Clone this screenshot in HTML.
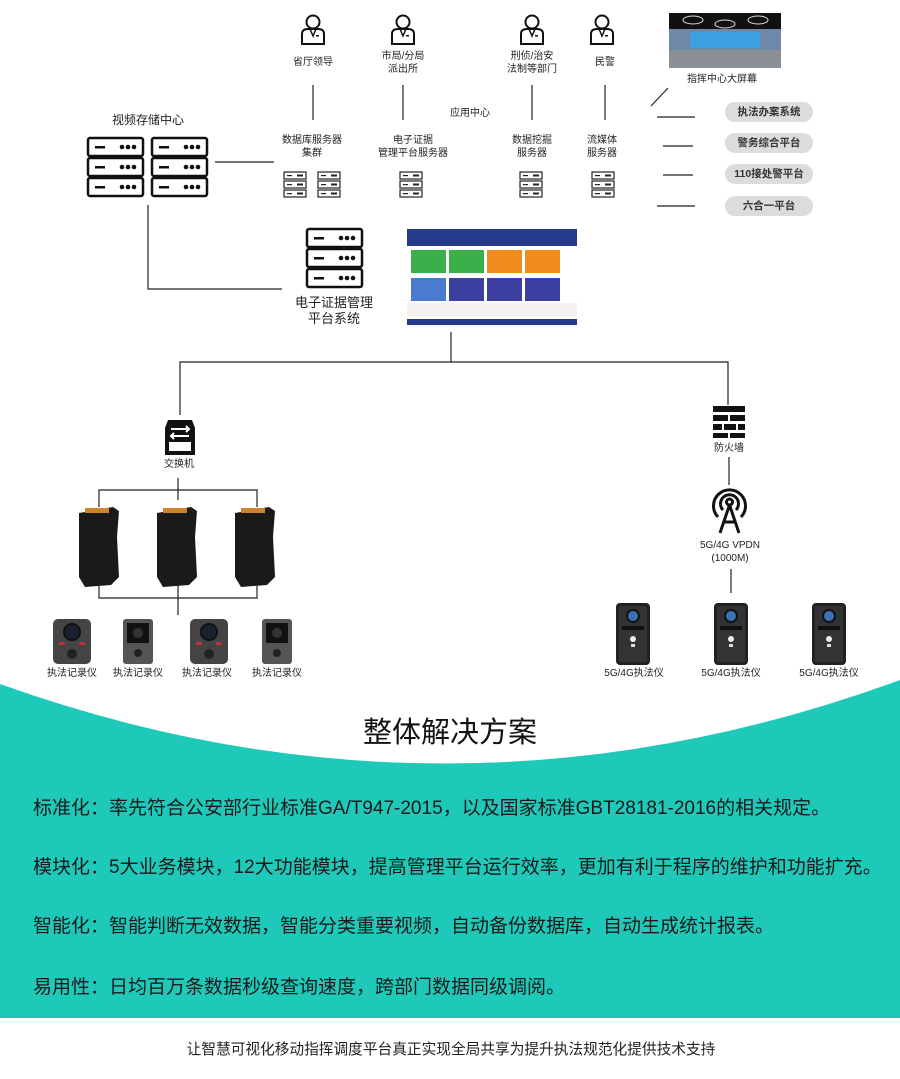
<!DOCTYPE html>
<html><head><meta charset="utf-8"><style>
body{margin:0;width:900px;height:1079px;position:relative;background:#fff;font-family:"Liberation Sans","Noto Sans CJK SC",sans-serif;overflow:hidden;color:#222}
.t{position:absolute;font-size:10px;text-align:center;line-height:13px;white-space:nowrap;transform:translateX(-50%)}
.pill{position:absolute;left:725px;width:88px;height:20px;border-radius:10px;background:#dcdcdc;font-size:10.5px;font-weight:bold;text-align:center;line-height:20px;color:#333}
.p{position:absolute;font-size:19px;left:33px;color:#1a1a1a;white-space:nowrap}
</style></head><body>
<svg width="900" height="1079" style="position:absolute;left:0;top:0">
<defs>
<g id="person"><circle cx="0" cy="-8" r="6.5" fill="#fff" stroke="#111" stroke-width="2"/><path d="M-11 14 L-11 4 Q-11 -1 -5 -1 L5 -1 Q11 -1 11 4 L11 14 Z" fill="#fff" stroke="#111" stroke-width="2"/><path d="M-3 -1 L0 6 L3 -1" fill="none" stroke="#111" stroke-width="1.5"/><rect x="3" y="5" width="3" height="1.5" fill="#111"/></g>
<g id="unit"><rect x="0" y="0" width="55" height="18" rx="2" fill="#fff" stroke="#111" stroke-width="2.5"/><rect x="7" y="8" width="10" height="2.5" fill="#111"/><circle cx="34" cy="9" r="2.3" fill="#111"/><circle cx="40" cy="9" r="2.3" fill="#111"/><circle cx="46" cy="9" r="2.3" fill="#111"/></g>
<g id="mini"><rect x="0" y="0" width="22" height="7" fill="#fff" stroke="#222" stroke-width="1.2"/><rect x="3" y="3" width="5" height="1.2" fill="#222"/><rect x="13" y="2.5" width="6" height="2" fill="#222"/></g>
<g id="ms"><use href="#mini"/><use href="#mini" y="9"/><use href="#mini" y="18"/></g>
<g id="srv"><use href="#unit"/><use href="#unit" y="20"/><use href="#unit" y="40"/></g>
<g id="cab"><path d="M0 6 L34 0 L40 4 L38 30 L40 70 L32 78 L6 80 L0 70 Z" fill="#1a1a1a"/><rect x="6" y="1" width="24" height="5" fill="#c8852e"/></g>
<g id="cam1"><rect x="0" y="0" width="38" height="45" rx="5" fill="#444"/><circle cx="19" cy="13" r="8" fill="#1b2233" stroke="#111" stroke-width="2"/><rect x="6" y="23" width="6" height="3" fill="#b33"/><rect x="26" y="23" width="6" height="3" fill="#b33"/><circle cx="19" cy="35" r="5" fill="#222"/></g>
<g id="cam2"><rect x="0" y="0" width="30" height="45" rx="3" fill="#555"/><rect x="4" y="4" width="22" height="20" fill="#111"/><circle cx="15" cy="14" r="5" fill="#333"/><circle cx="15" cy="34" r="4" fill="#222"/></g>
<g id="cam3"><rect x="0" y="0" width="34" height="62" rx="4" fill="#222"/><rect x="3" y="3" width="28" height="56" rx="2" fill="#333"/><circle cx="17" cy="13" r="6" fill="#3b6fb6" stroke="#111" stroke-width="2"/><rect x="6" y="23" width="22" height="4" fill="#111"/><circle cx="17" cy="36" r="3" fill="#eee"/><rect x="15" y="41" width="4" height="3" fill="#ddd"/></g>
</defs>
<g stroke="#222" stroke-width="1.2" fill="none">
<line x1="313" y1="85" x2="313" y2="120"/><line x1="403" y1="85" x2="403" y2="120"/><line x1="532" y1="85" x2="532" y2="120"/><line x1="605" y1="85" x2="605" y2="120"/>
<line x1="651" y1="106" x2="668" y2="88"/>
<line x1="657" y1="117" x2="695" y2="117"/><line x1="663" y1="146" x2="693" y2="146"/><line x1="663" y1="175" x2="693" y2="175"/><line x1="657" y1="206" x2="695" y2="206"/>
<line x1="215" y1="162" x2="274" y2="162"/>
<polyline points="148,205 148,289 282,289"/>
<line x1="451" y1="332" x2="451" y2="362"/>
<polyline points="180,415 180,362 728,362 728,405"/>
<line x1="178" y1="478" x2="178" y2="500"/>
<polyline points="99,507 99,490 257,490 257,507"/>
<polyline points="99,586 99,598 257,598 257,586"/><line x1="178" y1="580" x2="178" y2="615"/>
<line x1="729" y1="457" x2="729" y2="485"/><line x1="731" y1="569" x2="731" y2="593"/>
</g>
<use href="#person" x="313" y="30"/><use href="#person" x="403" y="30"/><use href="#person" x="532" y="30"/><use href="#person" x="602" y="30"/>
<rect x="669" y="13" width="112" height="55" fill="#6d88a8"/><rect x="669" y="13" width="112" height="16" fill="#111"/><rect x="690" y="32" width="70" height="16" fill="#3aa0e0"/><rect x="669" y="50" width="112" height="18" fill="#8a8f96"/>
<ellipse cx="693" cy="20" rx="10" ry="4" fill="none" stroke="#ddd"/><ellipse cx="725" cy="24" rx="10" ry="4" fill="none" stroke="#ddd"/><ellipse cx="758" cy="20" rx="10" ry="4" fill="none" stroke="#ddd"/>
<g transform="translate(88,138)"><use href="#srv"/></g><g transform="translate(152,138)"><use href="#srv"/></g>
<use href="#ms" x="284" y="172"/><use href="#ms" x="318" y="172"/><use href="#ms" x="400" y="172"/><use href="#ms" x="520" y="172"/><use href="#ms" x="592" y="172"/>
<g transform="translate(307,229)"><use href="#srv"/></g>
<rect x="407" y="229" width="170" height="17" fill="#263a8c"/>
<rect x="411" y="250" width="35" height="23" fill="#3ab04a"/><rect x="449" y="250" width="35" height="23" fill="#3ab04a"/><rect x="487" y="250" width="35" height="23" fill="#f08c1e"/><rect x="525" y="250" width="35" height="23" fill="#f08c1e"/>
<rect x="411" y="278" width="35" height="23" fill="#4b7bd0"/><rect x="449" y="278" width="35" height="23" fill="#3b3fa0"/><rect x="487" y="278" width="35" height="23" fill="#3b3fa0"/><rect x="525" y="278" width="35" height="23" fill="#3b3fa0"/>
<rect x="407" y="303" width="170" height="14" fill="#f4f0f4"/><rect x="407" y="319" width="170" height="6" fill="#263a8c"/>
<path d="M165 428 L168 420 L192 420 L195 428 L195 455 L165 455 Z" fill="#111"/><rect x="169" y="442" width="22" height="9" fill="#fff"/><path d="M171 429 H188 M186 426 L189 429 L186 432 M189 436 H172 M174 433 L171 436 L174 439" stroke="#fff" stroke-width="2" fill="none"/>
<g fill="#111"><rect x="713" y="406" width="32" height="6"/><rect x="713" y="415" width="32" height="6"/><rect x="713" y="424" width="32" height="6"/><rect x="713" y="433" width="32" height="5"/></g>
<g stroke="#fff" stroke-width="2"><line x1="729" y1="415" x2="729" y2="421"/><line x1="723" y1="424" x2="723" y2="430"/><line x1="737" y1="424" x2="737" y2="430"/><line x1="729" y1="433" x2="729" y2="438"/></g>
<g stroke="#111" stroke-width="3" fill="none"><path d="M718 517 A16 16 0 1 1 741 517"/><path d="M723 510 A9 9 0 1 1 736 510"/><circle cx="729.5" cy="502" r="3"/><path d="M729.5 505 L720 533 M729.5 505 L739 533 M723 522 H736"/></g>
<use href="#cab" x="79" y="507"/><use href="#cab" x="157" y="507"/><use href="#cab" x="235" y="507"/>
<use href="#cam1" x="53" y="619"/><use href="#cam2" x="123" y="619"/><use href="#cam1" x="190" y="619"/><use href="#cam2" x="262" y="619"/>
<use href="#cam3" x="616" y="603"/><use href="#cam3" x="714" y="603"/><use href="#cam3" x="812" y="603"/>
<path d="M0 684 Q450 845 900 680 L900 1018 L0 1018 Z" fill="#1fc9b9"/>
</svg>
<div class="t" style="left:313px;top:56px">省厅领导</div>
<div class="t" style="left:403px;top:50px">市局/分局<br>派出所</div>
<div class="t" style="left:532px;top:50px">刑侦/治安<br>法制等部门</div>
<div class="t" style="left:605px;top:56px">民警</div>
<div class="t" style="left:722px;top:73px">指挥中心大屏幕</div>
<div class="t" style="left:470px;top:107px">应用中心</div>
<div class="t" style="left:312px;top:134px">数据库服务器<br>集群</div>
<div class="t" style="left:413px;top:134px">电子证据<br>管理平台服务器</div>
<div class="t" style="left:532px;top:134px">数据挖掘<br>服务器</div>
<div class="t" style="left:602px;top:134px">流媒体<br>服务器</div>
<div class="t" style="left:148px;top:114px;font-size:12px">视频存储中心</div>
<div class="pill" style="top:102px">执法办案系统</div>
<div class="pill" style="top:133px">警务综合平台</div>
<div class="pill" style="top:164px">110接处警平台</div>
<div class="pill" style="top:196px">六合一平台</div>
<div class="t" style="left:334px;top:295px;font-size:13px;line-height:16px">电子证据管理<br>平台系统</div>
<div class="t" style="left:179px;top:458px">交换机</div>
<div class="t" style="left:729px;top:442px">防火墙</div>
<div class="t" style="left:730px;top:539px">5G/4G VPDN<br>(1000M)</div>
<div class="t" style="left:72px;top:667px">执法记录仪</div><div class="t" style="left:138px;top:667px">执法记录仪</div><div class="t" style="left:207px;top:667px">执法记录仪</div><div class="t" style="left:277px;top:667px">执法记录仪</div>
<div class="t" style="left:634px;top:667px">5G/4G执法仪</div><div class="t" style="left:731px;top:667px">5G/4G执法仪</div><div class="t" style="left:829px;top:667px">5G/4G执法仪</div>
<div class="t" style="left:450px;top:716px;font-size:29px;line-height:34px;color:#111">整体解决方案</div>
<div class="p" style="top:793px">标准化：率先符合公安部行业标准GA/T947-2015，以及国家标准GBT28181-2016的相关规定。</div>
<div class="p" style="top:852px">模块化：5大业务模块，12大功能模块，提高管理平台运行效率，更加有利于程序的维护和功能扩充。</div>
<div class="p" style="top:911px">智能化：智能判断无效数据，智能分类重要视频，自动备份数据库，自动生成统计报表。</div>
<div class="p" style="top:972px">易用性：日均百万条数据秒级查询速度，跨部门数据同级调阅。</div>
<div class="t" style="left:451px;top:1041px;font-size:14.7px;line-height:18px">让智慧可视化移动指挥调度平台真正实现全局共享为提升执法规范化提供技术支持</div>
</body></html>
